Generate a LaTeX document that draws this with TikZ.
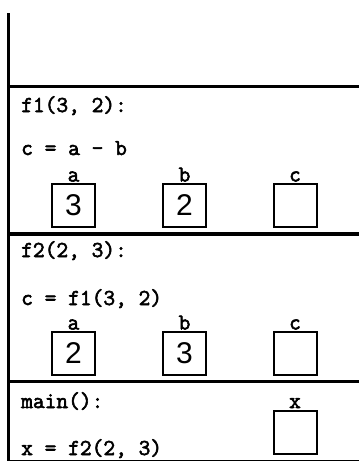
\documentclass[tikz,border=0pt]{standalone}
\usepackage{fontspec}
\setsansfont{Liberation Sans}
\newfontfamily\codefont{Latin Modern Mono}[FakeBold=2.5]
\begin{document}
\begin{tikzpicture}[x=1pt,y=-1pt,
  frame/.style={line width=3.5pt},
  code/.style={font=\codefont\fontsize{22.8}{22.8}\selectfont, inner sep=0pt, anchor=base west},
  cell/.style={draw, line width=2pt, minimum size=43pt, inner sep=0pt, font=\sffamily\fontsize{30}{30}\selectfont},
  lbl/.style={font=\codefont\fontsize{22.8}{22.8}\selectfont, inner sep=0pt, anchor=base}]
\useasboundingbox (0,0) rectangle (359,461);
% frame lines
\coordinate (ltop) at (8.5,13);
\coordinate (lbot) at (8.5,461);
\draw[line width=3pt] (ltop) -- (lbot);
\coordinate (h1l) at (7,86.5);  \coordinate (h1r) at (359,86.5);
\coordinate (h2l) at (7,234);   \coordinate (h2r) at (359,234);
\coordinate (h3l) at (7,381.5); \coordinate (h3r) at (359,381.5);
\coordinate (h4l) at (7,460);   \coordinate (h4r) at (359,460);
\draw[frame] (h1l) -- (h1r);
\draw[frame] (h2l) -- (h2r);
\draw[frame] (h3l) -- (h3r);
\draw[line width=1pt] (h4l) -- (h4r);
% f1 frame
\node[code] (f1h) at (21,112) {f1(3, 2):};
\node[code] (f1c) at (21,155) {c = a - b};
\node[cell] (f1a) at (73.5,205.5) {3};
\node[cell] (f1b) at (184.5,205.5) {2};
\node[cell] (f1cc) at (295,205.5) {};
\node[lbl] (f1la) at ([yshift=1.5pt]f1a.north) {a};
\node[lbl] (f1lb) at ([yshift=1.5pt]f1b.north) {b};
\node[lbl] (f1lc) at ([yshift=1.5pt]f1cc.north) {c};
% f2 frame
\node[code] (f2h) at (21,257) {f2(2, 3):};
\node[code] (f2c) at (21,305) {c = f1(3, 2)};
\node[cell] (f2a) at (73.5,353.5) {2};
\node[cell] (f2b) at (184.5,353.5) {3};
\node[cell] (f2cc) at (295,353.5) {};
\node[lbl] (f2la) at ([yshift=1.5pt]f2a.north) {a};
\node[lbl] (f2lb) at ([yshift=1.5pt]f2b.north) {b};
\node[lbl] (f2lc) at ([yshift=1.5pt]f2cc.north) {c};
% main frame
\node[code] (mh) at (21,408) {main():};
\node[code] (mc) at (21,455) {x = f2(2, 3)};
\node[cell] (mx) at (295,432) {};
\node[lbl] (mlx) at ([yshift=1.5pt]mx.north) {x};
\end{tikzpicture}
\end{document}
